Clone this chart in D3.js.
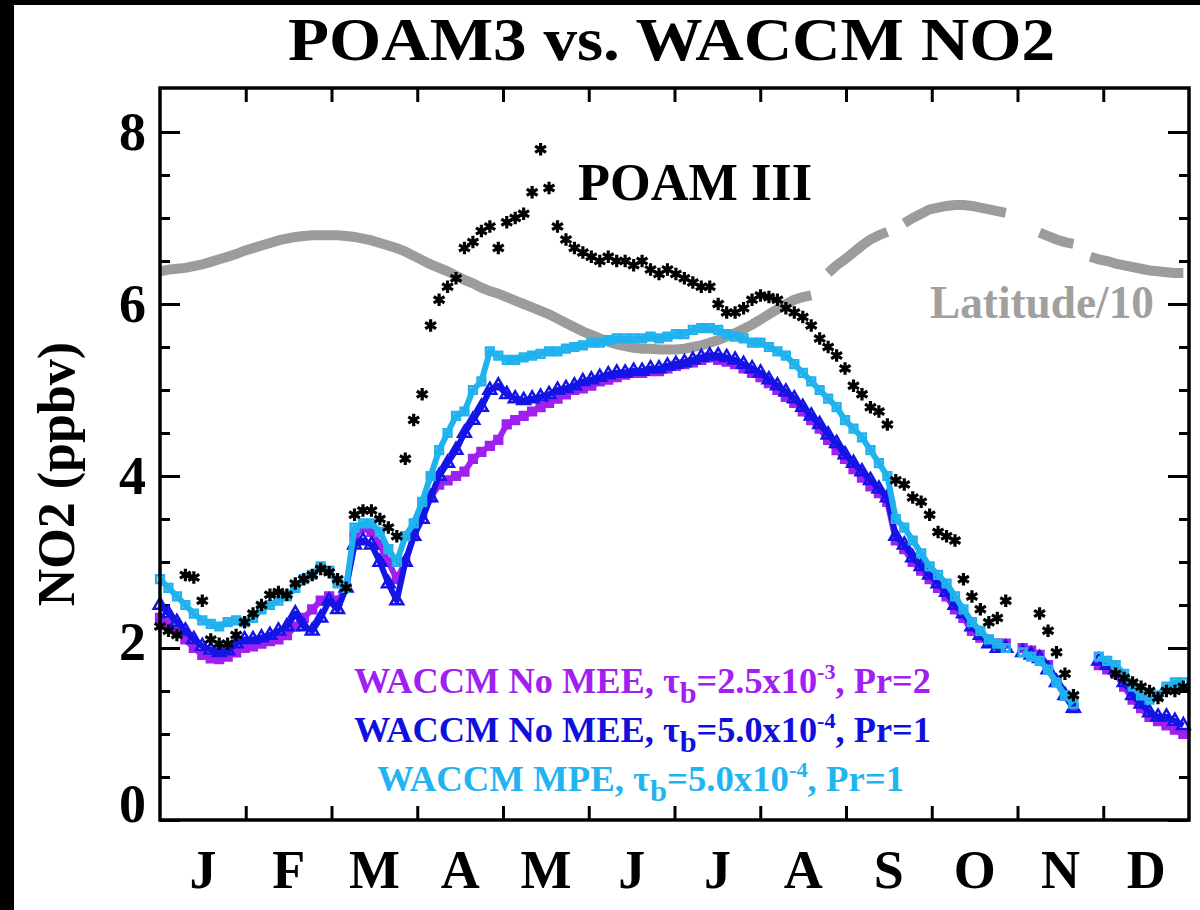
<!DOCTYPE html>
<html>
<head>
<meta charset="utf-8">
<script src="https://cdn.jsdelivr.net/npm/d3@7"></script>
<style>
	body { margin: 0; background: #fff; }
	text { font-family: "Liberation Serif", "Times New Roman", serif; font-weight: bold; }
</style>
</head>
<body>
<div id="chart"></div>
<script>
// month labels (equal-width months along the axis)
const months = ["J", "F", "M", "A", "M", "J", "J", "A", "S", "O", "N", "D"]
const yTicks = [0, 2, 4, 6, 8]
const yMinor = [0.5, 1, 1.5, 2.5, 3, 3.5, 4.5, 5, 5.5, 6.5, 7, 7.5, 8]

// day of year, one sample every 3 days
const days = d3.range(0, 366, 3)

// POAM III NO2 (ppbv)
const poam = [
	2.25, 2.2, 2.15, 2.85, 2.82, 2.55, 2.1, 2.05, 2.05, 2.15,
	2.3, 2.4, 2.5, 2.62, 2.65, 2.62, 2.75, 2.8, 2.85, 2.92,
	2.88, 2.8, 2.7, 3.55, 3.6, 3.6, 3.5, 3.4, 3.3, 4.2,
	4.65, 4.95, 5.75, 6.05, 6.2, 6.3, 6.65, 6.72, 6.85, 6.9,
	6.65, 6.95, 7.0, 7.05, 7.3, 7.8, 7.35, 6.9, 6.75, 6.65,
	6.6, 6.55, 6.5, 6.55, 6.5, 6.5, 6.45, 6.5, 6.4, 6.35,
	6.4, 6.35, 6.3, 6.25, 6.2, 6.2, 6.0, 5.9, 5.9, 5.95,
	6.05, 6.1, 6.08, 6.05, 5.95, 5.9, 5.85, 5.75, 5.6, 5.5,
	5.4, 5.25, 5.05, 4.95, 4.8, 4.75, 4.6, 3.95, 3.9, 3.75,
	3.7, 3.55, 3.35, 3.3, 3.25, 2.8, 2.6, 2.45, 2.3, 2.35,
	2.55, null, null, null, 2.4, 2.2, 1.95, 1.7, 1.45, null,
	null, null, null, 1.7, 1.65, 1.6, 1.55, 1.5, 1.42, 1.5,
	1.5, 1.55
]

// WACCM No MEE, tau_b=2.5e-3, Pr=2
const noMee1 = [
	2.35, 2.28, 2.2, 2.1, 2.0, 1.92, 1.88, 1.87, 1.9, 1.95,
	2.0, 2.02, 2.05, 2.08, 2.1, 2.15, 2.25, 2.35, 2.45, 2.55,
	2.6, 2.55, 2.7, 3.3, 3.4, 3.35, 3.2, 3.0, 2.8, 3.0,
	3.3, 3.55, 3.75, 3.9, 3.95, 4.0, 4.05, 4.2, 4.28, 4.35,
	4.42, 4.6, 4.65, 4.7, 4.75, 4.8, 4.85, 4.9, 4.95, 5.0,
	5.02, 5.05, 5.1, 5.12, 5.15, 5.18, 5.2, 5.2, 5.22, 5.22,
	5.25, 5.28, 5.3, 5.32, 5.35, 5.38, 5.35, 5.33, 5.3, 5.25,
	5.2, 5.15, 5.08, 5.0, 4.92, 4.85, 4.75, 4.65, 4.55, 4.42,
	4.3, 4.2, 4.08, 3.98, 3.88, 3.8, 3.7, 3.25, 3.15, 3.0,
	2.9, 2.8, 2.7, 2.6, 2.45, 2.35, 2.2, 2.12, 2.08, 2.05,
	2.05, null, 2.0, 1.97, 1.92, 1.8, 1.62, 1.45, 1.3, null,
	null, 1.8, 1.75, 1.7, 1.55, 1.4, 1.3, 1.2, 1.15, 1.1,
	1.05, 1.0
]

// WACCM No MEE, tau_b=5.0e-4, Pr=1
const noMee2 = [
	2.5, 2.4, 2.3, 2.2, 2.1, 2.02, 1.98, 1.95, 1.97, 2.05,
	2.1, 2.1, 2.12, 2.15, 2.2, 2.25, 2.4, 2.25, 2.2, 2.35,
	2.55, 2.45, 2.7, 3.2, 3.25, 3.2, 3.0, 2.75, 2.55, 3.0,
	3.3, 3.5, 3.75, 4.0, 4.15, 4.3, 4.5, 4.65, 4.8, 5.0,
	5.05, 4.95, 4.9, 4.88, 4.9, 4.92, 4.95, 5.0, 5.02, 5.05,
	5.1, 5.12, 5.15, 5.18, 5.2, 5.2, 5.22, 5.22, 5.25, 5.25,
	5.28, 5.3, 5.32, 5.35, 5.38, 5.4, 5.4, 5.38, 5.35, 5.3,
	5.25, 5.2, 5.12, 5.05, 4.98, 4.9, 4.8, 4.7, 4.6, 4.48,
	4.38, 4.25, 4.15, 4.05, 3.95, 3.85, 3.75, 3.3, 3.2, 3.05,
	2.95, 2.85, 2.75, 2.65, 2.5, 2.4, 2.25, 2.15, 2.05, 2.0,
	2.0, null, 1.95, 1.92, 1.88, 1.75, 1.6, 1.45, 1.3, null,
	null, 1.85, 1.8, 1.75, 1.6, 1.45, 1.35, 1.25, 1.2, 1.2,
	1.15, 1.1
]

// WACCM MPE, tau_b=5.0e-4, Pr=1
const mpe = [
	2.8, 2.7, 2.6, 2.5, 2.4, 2.32, 2.28, 2.25, 2.3, 2.32,
	2.3, 2.35, 2.45, 2.5, 2.55, 2.6, 2.7, 2.8, 2.85, 2.95,
	2.9, 2.75, 2.7, 3.4, 3.45, 3.45, 3.35, 3.15, 3.0, 3.3,
	3.45, 3.7, 4.0, 4.3, 4.5, 4.7, 4.75, 5.0, 5.1, 5.45,
	5.4, 5.35, 5.35, 5.38, 5.4, 5.42, 5.45, 5.45, 5.48, 5.5,
	5.52, 5.55, 5.55, 5.58, 5.6, 5.6, 5.6, 5.6, 5.62, 5.6,
	5.62, 5.65, 5.65, 5.7, 5.72, 5.72, 5.7, 5.65, 5.62, 5.6,
	5.55, 5.55, 5.5, 5.45, 5.4, 5.3, 5.2, 5.1, 5.0, 4.9,
	4.8, 4.65, 4.55, 4.45, 4.3, 4.15, 4.0, 3.5, 3.4, 3.25,
	3.1, 2.95, 2.85, 2.75, 2.6, 2.45, 2.3, 2.2, 2.1, 2.05,
	2.0, null, 1.95, 1.9, 1.85, 1.75, 1.6, 1.45, 1.35, null,
	null, 1.9, 1.85, 1.8, 1.7, 1.55, 1.45, 1.4, 1.45, 1.55,
	1.6, 1.6
]

// latitude / 10
const latitude = [
	6.38, 6.40, 6.41, 6.42, 6.44, 6.46, 6.49, 6.52, 6.55, 6.58,
	6.62, 6.65, 6.68, 6.71, 6.74, 6.76, 6.78, 6.79, 6.8, 6.8,
	6.8, 6.8, 6.79, 6.78, 6.76, 6.74, 6.71, 6.68, 6.65, 6.61,
	6.56, 6.51, 6.46, 6.42, 6.38, 6.33, 6.28, 6.24, 6.19, 6.15,
	6.12, 6.08, 6.04, 6.0, 5.96, 5.92, 5.88, 5.83, 5.78, 5.73,
	5.68, 5.64, 5.6, 5.56, 5.53, 5.51, 5.49, 5.48, 5.48, 5.47,
	5.47, 5.47, 5.48, 5.5, 5.52, 5.55, 5.58, 5.62, 5.66, 5.71,
	5.76, 5.82, 5.88, 5.94, 6.0, 6.05, 6.08, 6.1, null, 6.36,
	6.45, 6.52, 6.6, 6.68, 6.75, 6.8, 6.84, null, 6.94, 7.0,
	7.05, 7.1, 7.12, 7.14, 7.15, 7.15, 7.14, 7.12, 7.1, 7.08,
	7.06, null, null, null, 6.83, 6.79, 6.75, 6.72, 6.7, null,
	6.55, 6.52, 6.5, 6.47, 6.45, 6.43, 6.41, 6.39, 6.38, 6.37,
	6.36, 6.36
]

var W = 1200
var H = 910
var box = { left: 160, right: 1189, top: 88, bottom: 820 }

var svg = d3.select("#chart")
	.append("svg")
	.attr("width", W)
	.attr("height", H)

svg.append("rect").attr("width", W).attr("height", H).attr("fill", "#fff")
// black strips at the image edges
svg.append("rect").attr("x", 0).attr("y", 0).attr("width", W).attr("height", 5).attr("fill", "#000")
svg.append("rect").attr("x", 0).attr("y", 0).attr("width", 14).attr("height", H).attr("fill", "#000")

var x = d3.scaleLinear().domain([0, 365]).range([box.left, box.right])
var xMonth = d3.scaleLinear().domain([0, 12]).range([box.left, box.right])
var xBand = d3.scaleBand().domain(d3.range(12)).range([box.left, box.right])
var y = d3.scaleLinear().domain([0, 8.5]).range([box.bottom, box.top + 1])

var noDomain = g => g.select(".domain").remove()

function styleTicks(g) {
	g.selectAll(".tick line").attr("stroke", "#000").attr("stroke-width", 3)
}

// ---- axes ----
svg.append("g")
	.attr("transform", "translate(0," + box.bottom + ")")
	.call(d3.axisBottom(xMonth).tickValues(d3.range(1, 12)).tickSize(-14).tickFormat(""))
	.call(noDomain).call(styleTicks)

svg.append("g")
	.attr("transform", "translate(0," + box.top + ")")
	.call(d3.axisTop(xMonth).tickValues(d3.range(1, 12)).tickSize(-14).tickFormat(""))
	.call(noDomain).call(styleTicks)

var monthAxis = svg.append("g")
	.attr("transform", "translate(0," + box.bottom + ")")
	.call(d3.axisBottom(xBand).tickSize(0).tickPadding(30).tickFormat(i => months[i]))
	.call(noDomain)
monthAxis.selectAll("text")
	.attr("fill", "#000")
	.style("font-size", "54px")

var yAxis = svg.append("g")
	.attr("transform", "translate(" + box.left + ",0)")
	.call(d3.axisLeft(y).tickValues(yTicks).tickSize(-20).tickPadding(14).tickFormat(d3.format("d")))
	.call(noDomain).call(styleTicks)
yAxis.selectAll("text")
	.attr("fill", "#000")
	.style("font-size", "54px")
	.attr("y", d => d === 0 ? -16 : (d === 2 ? -6 : 0))

svg.append("g")
	.attr("transform", "translate(" + box.left + ",0)")
	.call(d3.axisLeft(y).tickValues(yMinor).tickSize(-10).tickFormat(""))
	.call(noDomain).call(styleTicks)

svg.append("g")
	.attr("transform", "translate(" + box.right + ",0)")
	.call(d3.axisRight(y).tickValues(yTicks).tickSize(-21).tickFormat(""))
	.call(noDomain).call(styleTicks)

svg.append("g")
	.attr("transform", "translate(" + box.right + ",0)")
	.call(d3.axisRight(y).tickValues(yMinor).tickSize(-10).tickFormat(""))
	.call(noDomain).call(styleTicks)

// ---- series ----
var pts = vals => days.map((d, i) => ({ day: d, v: vals[i] })).filter(p => p.v != null)

var line = d3.line()
	.defined(p => p.v != null)
	.x(p => x(p.day))
	.y(p => y(p.v))

var full = vals => days.map((d, i) => ({ day: d, v: vals[i] }))

// latitude/10
svg.append("path")
	.datum(full(latitude))
	.attr("d", line)
	.attr("fill", "none")
	.attr("stroke", "#9c9c9c")
	.attr("stroke-width", 10)

var models = [
	{ vals: noMee1, color: "#a020f0", shape: d3.symbolSquare, size: 60, fill: true },
	{ vals: noMee2, color: "#1414e6", shape: d3.symbolTriangle, size: 70, fill: false },
	{ vals: mpe, color: "#20b2ee", shape: d3.symbolSquare, size: 60, fill: false }
]

models.forEach(m => {
	svg.append("path")
		.datum(full(m.vals))
		.attr("d", line)
		.attr("fill", "none")
		.attr("stroke", m.color)
		.attr("stroke-width", 6)
		.attr("stroke-linejoin", "round")

	svg.append("g")
		.selectAll("path")
		.data(pts(m.vals))
		.enter()
		.append("path")
		.attr("transform", p => "translate(" + x(p.day) + "," + y(p.v) + ")")
		.attr("d", d3.symbol(m.shape, m.size))
		.attr("fill", m.fill ? m.color : "none")
		.attr("stroke", m.color)
		.attr("stroke-width", 2.5)
})

// POAM III
svg.append("g")
	.selectAll("path")
	.data(pts(poam))
	.enter()
	.append("path")
	.attr("transform", p => "translate(" + x(p.day) + "," + y(p.v) + ")")
	.attr("d", d3.symbol(d3.symbolAsterisk, 110))
	.attr("fill", "none")
	.attr("stroke", "#000")
	.attr("stroke-width", 3.2)

// ---- frame ----
svg.append("rect")
	.attr("x", box.left)
	.attr("y", box.top)
	.attr("width", box.right - box.left)
	.attr("height", box.bottom - box.top)
	.attr("fill", "none")
	.attr("stroke", "#000")
	.attr("stroke-width", 3.5)

// ---- texts ----
svg.append("text")
	.attr("x", 288)
	.attr("y", 60)
	.attr("textLength", 767)
	.attr("lengthAdjust", "spacingAndGlyphs")
	.style("font-size", "62px")
	.text("POAM3 vs. WACCM NO2")

svg.append("text")
	.attr("transform", "translate(74,474) rotate(-90)")
	.attr("text-anchor", "middle")
	.style("font-size", "52px")
	.text("NO2 (ppbv)")

svg.append("text")
	.attr("x", 578)
	.attr("y", 200)
	.attr("textLength", 234)
	.attr("lengthAdjust", "spacingAndGlyphs")
	.style("font-size", "52px")
	.text("POAM III")

svg.append("text")
	.attr("x", 930)
	.attr("y", 318)
	.attr("textLength", 224)
	.attr("lengthAdjust", "spacingAndGlyphs")
	.attr("fill", "#a0a0a0")
	.style("font-size", "46px")
	.text("Latitude/10")

var legend = [
	{ name: "WACCM No MEE, ", tau: "=2.5x10", exp: "-3", tail: ", Pr=2", color: "#a020f0", x: 354, y: 693, len: 577 },
	{ name: "WACCM No MEE, ", tau: "=5.0x10", exp: "-4", tail: ", Pr=1", color: "#1010dd", x: 354, y: 742, len: 577 },
	{ name: "WACCM MPE, ", tau: "=5.0x10", exp: "-4", tail: ", Pr=1", color: "#22b4ee", x: 377, y: 791, len: 527 }
]

legend.forEach(l => {
	var t = svg.append("text")
		.attr("x", l.x)
		.attr("y", l.y)
		.attr("fill", l.color)
		.attr("textLength", l.len)
		.attr("lengthAdjust", "spacingAndGlyphs")
		.style("font-size", "36px")
	t.append("tspan").text(l.name + "\u03c4")
	t.append("tspan").attr("dy", 10).style("font-size", "30px").text("b")
	t.append("tspan").attr("dy", -10).text(l.tau)
	t.append("tspan").attr("dy", -14).style("font-size", "22px").text(l.exp)
	t.append("tspan").attr("dy", 14).text(l.tail)
})
</script>
</body>
</html>
